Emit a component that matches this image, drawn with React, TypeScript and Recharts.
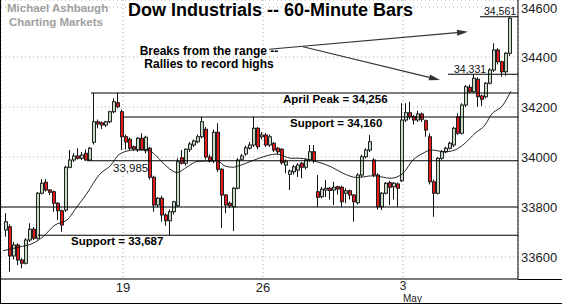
import React from 'react';
import { ComposedChart, Bar, Line, XAxis, YAxis, CartesianGrid, ReferenceLine } from 'recharts';

const FONT = '"Liberation Sans", Arial, sans-serif';

// 60-minute bars, Apr 12 (last bar) .. May 6, 7 bars per session
const opens = [
  33708, 33721, 33604, 33648, 33588, 33575, 33668, 33711, 33675, 33855,
  33899, 33868, 33861, 33815, 33785, 33788, 33959, 33988, 34004, 33995,
  34015, 33988, 34059, 34141, 34137, 34128, 34141, 34181, 34217, 34181,
  34081, 34071, 34041, 34028, 34075, 34025, 34035, 33919, 33808, 33835,
  33768, 33745, 33781, 33805, 33997, 33975, 34031, 34048, 34061, 34081,
  34111, 34000, 33984, 34099, 33951, 33848, 33815, 33801, 33875, 33991,
  34012, 34035, 34048, 34115, 34081, 34088, 34048, 34055, 34035, 34031,
  33968, 33931, 33941, 33948, 33975, 33959, 33988, 34021, 33861, 33841,
  33868, 33875, 33868, 33881, 33879, 33855, 33865, 33848, 33817, 33928,
  34001, 34028, 33988, 33928, 33801, 33855, 33897, 33881, 33892, 33905,
  34148, 34177, 34161, 34148, 34172, 34145, 34081, 33901, 33855, 33995,
  34021, 34035, 34048, 34161, 34095, 34208, 34279, 34261, 34311, 34244,
  34241, 34295, 34348, 34428, 34381, 34341, 34415,
];
const highs = [
  33775, 33730, 33660, 33655, 33595, 33675, 33735, 33720, 33860, 33912,
  33912, 33872, 33866, 33820, 33790, 33965, 34028, 34015, 34035, 34020,
  34030, 34040, 34256, 34150, 34142, 34145, 34185, 34235, 34256, 34190,
  34090, 34078, 34046, 34080, 34095, 34085, 34040, 33925, 33840, 33845,
  33775, 33790, 33825, 33995, 34028, 34035, 34060, 34070, 34090, 34161,
  34120, 34010, 34110, 34135, 33955, 33852, 33822, 33880, 33995, 34012,
  34045, 34060, 34161, 34120, 34100, 34095, 34090, 34060, 34040, 34035,
  33990, 33950, 33968, 33975, 33980, 33992, 34048, 34048, 33928, 33880,
  33908, 33880, 33901, 33885, 33885, 33875, 33870, 33852, 33935, 34010,
  34035, 34088, 33995, 33935, 33860, 33900, 33905, 33900, 33898, 34215,
  34215, 34221, 34168, 34185, 34178, 34150, 34095, 33910, 34000, 34028,
  34041, 34061, 34121, 34175, 34215, 34288, 34290, 34331, 34318, 34250,
  34300, 34355, 34455, 34435, 34385, 34420, 34561,
];
const lows = [
  33681, 33541, 33590, 33568, 33555, 33570, 33660, 33668, 33670, 33850,
  33862, 33848, 33781, 33748, 33701, 33780, 33955, 33980, 33990, 33988,
  33985, 33985, 34050, 34115, 34112, 34120, 34135, 34175, 34195, 34028,
  34030, 34028, 34025, 34020, 34025, 34015, 33910, 33781, 33800, 33741,
  33725, 33687, 33770, 33800, 33970, 33965, 34020, 34040, 34055, 34075,
  33990, 33978, 33975, 33940, 33716, 33775, 33795, 33704, 33870, 33985,
  34005, 34030, 34040, 34030, 34070, 34040, 34040, 34020, 34010, 33970,
  33935, 33868, 33930, 33920, 33915, 33950, 33980, 33975, 33800, 33835,
  33840, 33830, 33808, 33850, 33801, 33815, 33830, 33741, 33810, 33920,
  33995, 34020, 33920, 33790, 33788, 33850, 33808, 33830, 33801, 33900,
  34140, 34150, 34130, 34140, 34140, 34081, 33890, 33761, 33850, 33988,
  34015, 34030, 34040, 34088, 34090, 34200, 34255, 34255, 34201, 34205,
  34235, 34290, 34340, 34370, 34321, 34325, 34405,
];
const closes = [
  33741, 33604, 33648, 33588, 33575, 33668, 33711, 33675, 33855, 33895,
  33868, 33859, 33815, 33785, 33728, 33959, 33988, 34004, 33995, 34008,
  33988, 34035, 34141, 34132, 34128, 34141, 34181, 34221, 34201, 34081,
  34060, 34035, 34032, 34075, 34028, 34079, 33919, 33808, 33835, 33768,
  33745, 33781, 33821, 33981, 33975, 34031, 34052, 34064, 34081, 34141,
  34000, 33984, 34099, 33951, 33848, 33808, 33805, 33875, 33988, 34004,
  34037, 34048, 34115, 34041, 34088, 34048, 34081, 34028, 34021, 33977,
  33981, 33944, 33961, 33968, 33959, 33988, 34021, 33985, 33839, 33871,
  33875, 33866, 33879, 33872, 33821, 33865, 33848, 33821, 33928, 34001,
  34028, 34061, 33928, 33801, 33855, 33895, 33879, 33895, 33875, 34148,
  34177, 34161, 34148, 34172, 34151, 34108, 33901, 33855, 33995, 34021,
  34035, 34055, 34115, 34095, 34208, 34281, 34261, 34315, 34241, 34231,
  34295, 34348, 34428, 34381, 34341, 34415, 34555,
];

// moving average at these bar positions
const maBar = [
  -1, 3, 6.5, 9, 12, 15, 17.5, 20, 23, 26, 28, 31.5, 35, 37.5, 40, 42.5, 45, 47.5,
  50, 52.5, 54.5, 56.5, 58, 61, 63, 67.5, 71, 73, 77.5, 81, 84, 87.5, 91.5, 96,
  99, 101.5, 104, 106, 109.5, 112, 114.5, 117, 119.5, 121, 124, 126,
];
const maValue = [
  33625, 33640, 33655, 33681, 33728, 33748, 33801, 33855, 33928, 33968, 34010, 34028,
  34030, 34001, 33961, 33938, 33960, 33982, 33984, 33986, 33964, 33959, 33965, 33983,
  33995, 34012, 33995, 33995, 33981, 33961, 33935, 33918, 33925, 33915, 33935, 33988,
  34015, 34028, 34021, 34028, 34055, 34095, 34128, 34168, 34208, 34264,
];

const priceTicks = [33600, 33800, 34000, 34200, 34400, 34600];
const dayTicks = [29, 64, 99];
const dayLabels = ['19', '26', '3'];
const monthLabels = ['', '', 'May'];

const levelValues = [34561, 34331, 34256, 34160, 33985, 33800, 33687];
const levelFrom = [118.25, 110.25, 21, 29, 20, -1.5, 7.75];

const X_MIN = -1.5;
const X_MAX = 127.75;

const candles = opens.map((o, i) => ({
  i,
  o,
  h: highs[i],
  l: lows[i],
  c: closes[i],
  range: [lows[i], highs[i]],
}));
const maData = maBar.map((i, k) => ({ i, ma: maValue[k] }));

const Candle = (props: any) => {
  const { x, y, width, height } = props;
  const d = props.payload || props;
  if (x == null || y == null) return null;
  const top = Math.min(y, y + height);
  const bottom = Math.max(y, y + height);
  const k = (bottom - top) / (d.h - d.l || 1);
  const yOf = (v: number) => top + (d.h - v) * k;
  const cx = Math.floor(x + width / 2);
  const up = d.c >= d.o;
  const bTop = yOf(Math.max(d.o, d.c));
  const bBot = yOf(Math.min(d.o, d.c));
  return (
    <g>
      <line x1={cx - 0.5} x2={cx - 0.5} y1={top} y2={bottom} stroke="#111" strokeWidth={1} />
      <rect
        x={cx - 1.5}
        y={bTop}
        width={3}
        height={Math.max(bBot - bTop, 1)}
        fill={up ? '#c5dbc5' : '#e31a1c'}
        stroke="#222"
        strokeWidth={1}
      />
    </g>
  );
};

const Arrow = (p: any) => {
  const { x1, y1, x2, y2 } = p;
  const ang = Math.atan2(y2 - y1, x2 - x1);
  const len = 11;
  const half = 3;
  const bx = x2 - len * Math.cos(ang);
  const by = y2 - len * Math.sin(ang);
  const nx = -Math.sin(ang) * half;
  const ny = Math.cos(ang) * half;
  return (
    <g>
      <line x1={x1} y1={y1} x2={bx} y2={by} stroke="#333" strokeWidth={1.2} />
      <polygon points={`${x2},${y2} ${bx + nx},${by + ny} ${bx - nx},${by - ny}`} fill="#333" />
    </g>
  );
};

const DayTick = (props: any) => {
  const { x, y, payload } = props;
  const k = dayTicks.indexOf(payload.value);
  const hasMonth = !!monthLabels[k];
  return (
    <g>
      <text
        x={x}
        y={y + (hasMonth ? 9 : 11)}
        textAnchor="middle"
        fontSize={hasMonth ? 12 : 13}
        fill="#222"
        fontFamily={FONT}
      >
        {dayLabels[k]}
      </text>
      {hasMonth ? (
        <text x={x} y={y + 21} textAnchor="start" fontSize={10} fill="#222" fontFamily={FONT}>
          {monthLabels[k]}
        </text>
      ) : null}
    </g>
  );
};

export default function App() {
  return (
    <div
      style={{
        position: 'absolute',
        left: 0,
        top: 0,
        width: 562,
        height: 304,
        boxSizing: 'border-box',
        borderLeft: '1px solid #000',
        borderBottom: '1px solid #000',
        background: '#fff',
        overflow: 'hidden',
      }}
    >
      <ComposedChart
        width={561}
        height={303}
        data={candles}
        margin={{ top: 0, right: 0, bottom: 0, left: 0 }}
      >
        <CartesianGrid strokeDasharray="1 3" stroke="#a8a8a8" />
        <XAxis
          type="number"
          dataKey="i"
          domain={[X_MIN, X_MAX]}
          ticks={dayTicks}
          interval={0}
          allowDataOverflow
          height={24}
          tickLine={false}
          tickSize={0}
          axisLine={{ stroke: '#000' }}
          tick={<DayTick />}
        />
        <YAxis
          orientation="right"
          width={44}
          domain={[33512, 34628]}
          ticks={priceTicks}
          allowDataOverflow
          tickLine={false}
          tickSize={0}
          tickMargin={3}
          axisLine={{ stroke: '#000' }}
          tick={{ fontSize: 13, fill: '#222', fontFamily: FONT }}
        />
        {levelValues.map((v, k) => (
          <ReferenceLine
            key={v}
            segment={[{ x: levelFrom[k], y: v }, { x: X_MAX, y: v }]}
            stroke="#000"
            strokeWidth={1}
            ifOverflow="visible"
          />
        ))}
        <Bar dataKey="range" barSize={4} shape={<Candle />} isAnimationActive={false} />
        <Line
          data={maData}
          dataKey="ma"
          type="monotone"
          stroke="#111"
          strokeWidth={0.9}
          dot={false}
          isAnimationActive={false}
        />
        <ReferenceLine
          segment={[{ x: 65.5, y: 34431 }, { x: 115.25, y: 34501 }]}
          shape={Arrow}
          ifOverflow="visible"
        />
        <ReferenceLine
          segment={[{ x: 74, y: 34441 }, { x: 108.25, y: 34308 }]}
          shape={Arrow}
          ifOverflow="visible"
        />
      </ComposedChart>
      <svg
        width={562}
        height={304}
        style={{ position: 'absolute', left: -1, top: 0, pointerEvents: 'none' }}
        fontFamily={FONT}
      >
        <line x1={518} x2={562} y1={279.5} y2={279.5} stroke="#000" />
        <text x={7} y={12} fontSize={11.5} fontWeight="bold" fill="#a0a0a0">Michael Ashbaugh</text>
        <text x={9} y={26} fontSize={11.5} fontWeight="bold" fill="#a0a0a0">Charting Markets</text>
        <text x={128} y={16} fontSize={18} fontWeight="bold" fill="#000">
          Dow Industrials -- 60-Minute Bars
        </text>
        <text x={209} y={55} fontSize={12} fontWeight="bold" textAnchor="middle" fill="#000">
          Breaks from the range --
        </text>
        <text x={209} y={68} fontSize={12} fontWeight="bold" textAnchor="middle" fill="#000">
          Rallies to record highs
        </text>
        <text x={283} y={103} fontSize={11.5} fontWeight="bold" fill="#000">April Peak = 34,256</text>
        <text x={290} y={127} fontSize={11.5} fontWeight="bold" fill="#000">Support = 34,160</text>
        <text x={71} y={245} fontSize={11.5} fontWeight="bold" fill="#000">Support = 33,687</text>
        <text x={113} y={172} fontSize={11.5} fill="#111">33,985</text>
        <text x={454} y={73} fontSize={10.5} fill="#111">34,331</text>
        <text x={484} y={15} fontSize={10.5} fill="#111">34,561</text>
      </svg>
    </div>
  );
}
